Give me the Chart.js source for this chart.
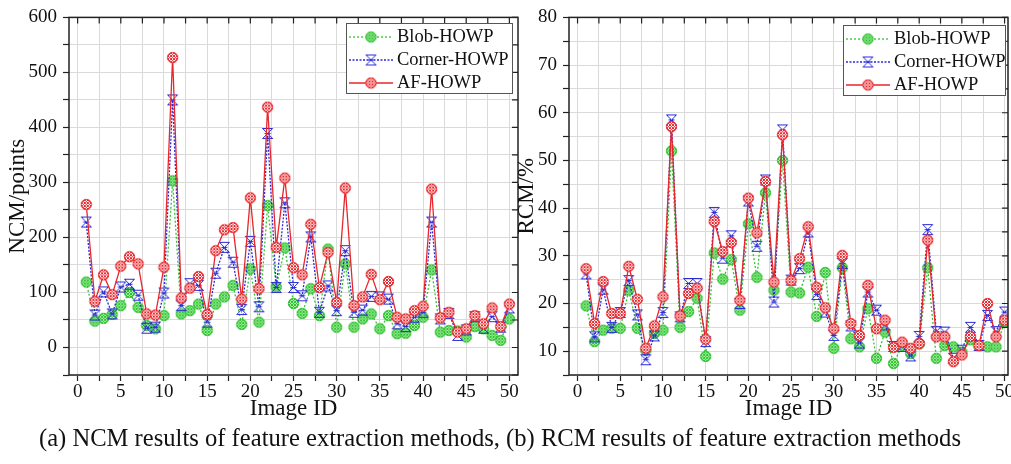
<!DOCTYPE html>
<html lang="en">
<head>
<meta charset="UTF-8">
<title>NCM / RCM results</title>
<script src="https://cdn.jsdelivr.net/npm/chart.js"></script>
<style>
  body { margin: 0; width: 1011px; height: 464px; background: #fff; overflow: hidden; position: relative; font-family: "Liberation Serif", "Times New Roman", serif; }
  canvas.painel { position: absolute; top: 0; }
  #graficoA { left: 0; }
  #graficoB { left: 500px; }
  .legenda { position: absolute; background: #fff; border: 1px solid #555; font-size: 18.5px; color: #111; padding-top: 1px; }
  .legenda div { height: 23px; display: flex; align-items: center; white-space: nowrap; }
  .legenda canvas { margin: 0 4px 0 2px; }
  #legA { left: 346px; top: 23px; width: 165px; height: 68px; }
  #legB { left: 843px; top: 25px; width: 161px; height: 68px; }
  .rodape { position: absolute; left: 0; top: 424px; width: 1000px; text-align: center; font-size: 24.6px; color: #111; }
</style>
</head>
<body>

<canvas id="graficoA" class="painel" width="530" height="425"></canvas>
<canvas id="graficoB" class="painel" width="520" height="425"></canvas>

<div id="legA" class="legenda"></div>
<div id="legB" class="legenda"></div>

<div class="rodape">(a) NCM results of feature extraction methods, (b) RCM results of feature extraction methods</div>

<script>
  // Image IDs (eixo x)
  const ids = [1,2,3,4,5,6,7,8,9,10,11,12,13,14,15,16,17,18,19,20,21,22,23,24,25,
               26,27,28,29,30,31,32,33,34,35,36,37,38,39,40,41,42,43,44,45,46,47,48,49,50];

  // marcas do eixo x (rotulo so nos multiplos de 5)
  const xMarcas = [0,2.5,5,7.5,10,12.5,15,17.5,20,22.5,25,27.5,30,32.5,35,37.5,40,42.5,45,47.5,50];

  const nomes = ['Blob-HOWP', 'Corner-HOWP', 'AF-HOWP'];

  // (a) NCM / points
  const ncmBlob = [119,48,53,60,76,100,73,40,34,58,303,61,67,79,31,79,92,113,42,143,46,258,110,181,80,
                   62,107,58,179,37,152,37,52,61,34,58,25,26,40,55,141,28,31,30,19,38,34,22,13,52];
  const ncmCorner = [228,59,101,61,110,115,95,35,37,99,450,76,116,113,46,135,182,155,69,193,74,389,109,263,109,
                     94,201,64,112,67,176,64,68,93,92,88,43,38,55,64,228,52,62,22,32,56,35,56,37,72];
  const ncmAF = [260,84,132,96,148,165,152,61,59,146,527,90,108,129,60,176,214,218,88,272,107,437,182,308,145,
                 132,224,109,173,82,290,76,92,133,87,120,55,52,67,75,288,54,64,28,34,58,43,72,38,79];

  // (b) RCM / %
  const rcmBlob = [19.5,12.0,14.4,14.8,14.8,22.8,14.8,10.2,13.7,14.4,52.0,15.0,18.3,21.1,8.9,30.6,25.1,29.2,18.6,36.7,25.5,43.2,22.8,50.0,22.4,
                   22.2,27.6,17.3,26.5,10.6,27.5,12.6,10.9,18.9,8.5,14.0,7.4,11.2,9.5,11.5,27.5,8.5,11.2,10.9,9.8,12.4,11.1,10.9,10.9,16.0];
  const rcmCorner = [26.2,13.0,23.0,15.0,18.1,24.8,17.6,8.2,13.2,18.1,58.5,17.2,24.2,24.2,12.0,39.1,29.5,34.2,20.0,41.5,32.0,45.9,20.3,56.4,24.9,
                     27.3,35.0,21.9,18.2,13.3,28.4,15.3,11.7,22.4,18.6,15.5,11.0,11.0,9.0,13.1,35.5,14.1,14.0,8.5,10.2,15.0,11.2,17.5,14.1,18.2];
  const rcmAF = [27.3,15.8,24.6,17.9,17.9,27.8,20.9,10.6,15.3,21.4,57.1,17.4,22.1,23.2,12.5,37.2,30.9,32.8,20.7,42.1,34.8,45.6,24.5,55.4,24.8,
                 29.4,36.1,23.4,19.1,14.7,30.1,15.8,13.3,23.8,14.7,16.5,10.8,11.9,10.6,11.6,33.3,13.0,13.0,7.8,9.2,13.1,11.2,20.0,13.0,16.5];

  const corBlob = '#33c233';
  const corCorner = '#2b2bd6';
  const corAF = '#e8262b';

  Chart.defaults.font.family = '"Liberation Serif", "Times New Roman", serif';
  Chart.defaults.color = '#111';

  // desenha o marcador de cada serie num canvas pequeno
  function marcador(tipo) {
    const c = document.createElement('canvas');
    c.width = 13; c.height = 13;
    const g = c.getContext('2d');
    const m = 6.5, r = 5.2;
    g.lineWidth = 1;
    if (tipo === 'corner') {
      g.strokeStyle = corCorner;
      g.beginPath();
      g.moveTo(1.5, 1.5); g.lineTo(11.5, 1.5); g.lineTo(1.5, 11.5); g.lineTo(11.5, 11.5); g.closePath();
      g.moveTo(1.5, 1.5); g.lineTo(11.5, 11.5);
      g.moveTo(3.5, 6.5); g.lineTo(9.5, 6.5);
      g.stroke();
      return c;
    }
    const cor = tipo === 'blob' ? corBlob : corAF;
    g.fillStyle = tipo === 'blob' ? '#a8f0a8' : '#fff';
    g.beginPath(); g.arc(m, m, r, 0, Math.PI * 2); g.fill();
    g.save();
    g.beginPath(); g.arc(m, m, r, 0, Math.PI * 2); g.clip();
    g.strokeStyle = cor;
    g.beginPath();
    for (let k = -12; k <= 12; k += 3) {
      g.moveTo(m + k - 8, m - 8); g.lineTo(m + k + 8, m + 8);
      g.moveTo(m + k + 8, m - 8); g.lineTo(m + k - 8, m + 8);
    }
    g.stroke();
    g.restore();
    g.strokeStyle = cor;
    g.beginPath(); g.arc(m, m, r, 0, Math.PI * 2); g.stroke();
    return c;
  }

  const marcas = { blob: marcador('blob'), corner: marcador('corner'), af: marcador('af') };

  function pontos(valores) {
    return ids.map((id, k) => ({ x: id, y: valores[k] }));
  }

  function serie(nome, valores, cor, tracejado, marca, ordem) {
    return {
      label: nome,
      data: pontos(valores),
      borderColor: cor,
      backgroundColor: cor,
      borderWidth: 1.3,
      borderDash: tracejado,
      pointStyle: marca,
      pointRadius: 5,
      tension: 0,
      fill: false,
      order: ordem
    };
  }

  // moldura e ticks internos (topo e direita)
  const moldura = {
    id: 'moldura',
    afterDraw(chart) {
      const { ctx, chartArea: a } = chart;
      const sx = chart.scales.x, sy = chart.scales.y;
      ctx.save();
      ctx.strokeStyle = '#222';
      ctx.lineWidth = 1.5;
      ctx.strokeRect(a.left, a.top, a.right - a.left, a.bottom - a.top);
      ctx.lineWidth = 1.2;
      ctx.beginPath();
      sx.ticks.forEach(t => {
        const p = sx.getPixelForValue(t.value);
        ctx.moveTo(p, a.top); ctx.lineTo(p, a.top + 6);
      });
      sy.ticks.forEach(t => {
        const p = sy.getPixelForValue(t.value);
        ctx.moveTo(a.right, p); ctx.lineTo(a.right - 6, p);
      });
      ctx.stroke();
      ctx.restore();
    }
  };

  function montarGrafico(idCanvas, dados, yMin, yMax, yPasso, yRotulo, xMax, tituloY, padTitulo, padDireita) {
    const fonteTick = { size: 19 };
    const grade = { color: '#dadada', lineWidth: 1, tickLength: 6, tickColor: '#222', tickWidth: 1.2 };
    return new Chart(document.getElementById(idCanvas), {
      type: 'line',
      data: {
        datasets: [
          serie(nomes[0], dados[0], corBlob, [2, 2], marcas.blob, 3),
          serie(nomes[1], dados[1], corCorner, [2, 1.5], marcas.corner, 2),
          serie(nomes[2], dados[2], corAF, [], marcas.af, 1)
        ]
      },
      options: {
        responsive: false,
        animation: false,
        layout: { padding: { top: 16, right: padDireita, left: 0, bottom: 0 } },
        plugins: { legend: { display: false }, tooltip: { enabled: false } },
        scales: {
          x: {
            type: 'linear',
            min: -1,
            max: xMax,
            afterBuildTicks: s => { s.ticks = xMarcas.map(v => ({ value: v })); },
            afterFit: s => { s.height = 50; },
            ticks: {
              autoSkip: false,
              maxRotation: 0,
              padding: 0,
              font: fonteTick,
              callback: v => (v % 5 === 0 ? v : '')
            },
            grid: grade,
            border: { display: false },
            title: { display: true, text: 'Image ID', font: { size: 23 }, padding: { top: 0, bottom: 2 } }
          },
          y: {
            min: yMin,
            max: yMax,
            afterFit: s => { s.width = 69; },
            ticks: {
              stepSize: yPasso,
              autoSkip: false,
              padding: 6,
              font: fonteTick,
              callback: v => (v % yRotulo === 0 ? v : '')
            },
            grid: grade,
            border: { display: false },
            title: { display: true, text: tituloY, font: { size: 23 }, padding: { top: padTitulo, bottom: 0 } }
          }
        }
      },
      plugins: [moldura]
    });
  }

  montarGrafico('graficoA', [ncmBlob, ncmCorner, ncmAF], -50, 600, 50, 100, 51, 'NCM/points', 4, 12);
  montarGrafico('graficoB', [rcmBlob, rcmCorner, rcmAF], 5, 80, 5, 10, 50.4, 'RCM/%', 13, 12);

  // legenda em html, com amostra de linha + marcador
  function montarLegenda(idDiv) {
    const estilos = [
      { cor: corBlob, dash: [2, 2], marca: marcas.blob },
      { cor: corCorner, dash: [2, 1.5], marca: marcas.corner },
      { cor: corAF, dash: [], marca: marcas.af }
    ];
    const div = document.getElementById(idDiv);
    nomes.forEach((nome, k) => {
      const linha = document.createElement('div');
      const amostra = document.createElement('canvas');
      amostra.width = 44; amostra.height = 14;
      const g = amostra.getContext('2d');
      g.strokeStyle = estilos[k].cor;
      g.lineWidth = 1.3;
      g.setLineDash(estilos[k].dash);
      g.beginPath(); g.moveTo(0, 7); g.lineTo(44, 7); g.stroke();
      g.drawImage(estilos[k].marca, 22 - 6.5, 7 - 6.5);
      const texto = document.createElement('span');
      texto.textContent = nome;
      linha.appendChild(amostra);
      linha.appendChild(texto);
      div.appendChild(linha);
    });
  }

  montarLegenda('legA');
  montarLegenda('legB');
</script>
</body>
</html>
